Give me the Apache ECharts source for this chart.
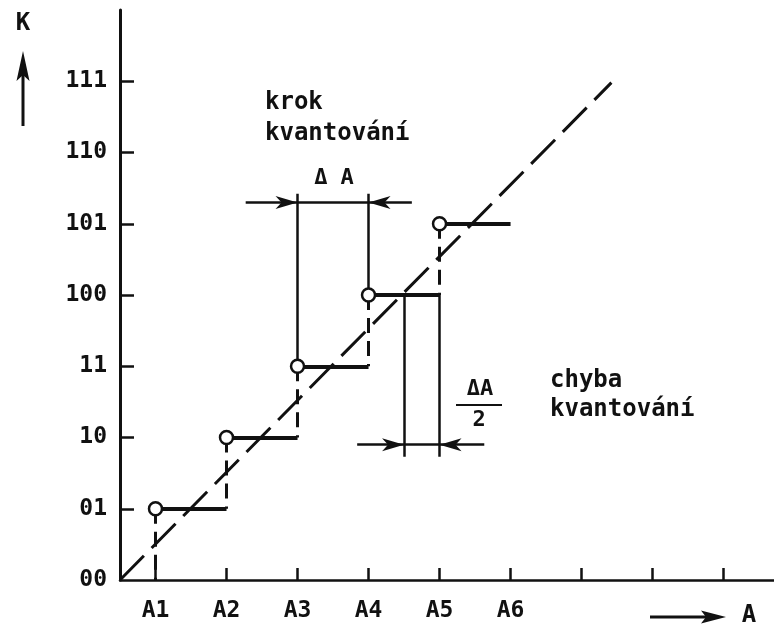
<!DOCTYPE html>
<html><head><meta charset="utf-8">
<script src="https://cdn.jsdelivr.net/npm/echarts@6/dist/echarts.min.js"></script>
<style>html,body{margin:0;padding:0;background:#fff}#c{width:774px;height:628px}</style>
</head><body><div id="c"></div>
<script>
// ---- data ----
const codeLabels = ['00','01','10','11','100','101','110','111'];
const codeValues = [0,1,2,3,4,5,6,7];
const inputLabels = ['A1','A2','A3','A4','A5','A6'];
const inputValues = [1,2,3,4,5,6];
const xTickValues = [1,2,3,4,5,6,7,8,9];
const yTickValues = [1,2,3,4,5,6,7];
const stepCodes = [1,2,3,4,5];            // code reached at A1..A5
const diagonalLine = [[0.5,0],[7.42,6.98]];  // ideal (dashed) characteristic
// dimension "krok kvantování" (ΔA)
const stepDim = {xFrom:3, xTo:4, y:5.30, top:5.42, left:2.27, right:4.61};
// dimension "chyba kvantování" (ΔA/2)
const errDim = {xFrom:4.5, xTo:5, y:1.90, bottom:1.73, level:4, left:3.84, right:5.63};

const FONT = 'DejaVu Sans Mono';
const BLACK = '#111';

// build segments
const stepSegs = stepCodes.map((k,i)=>({coords:[[inputValues[i],k],[inputValues[i]+1,k]]}));
const riserSegs = stepCodes.map((k,i)=>({coords:[[inputValues[i],k],[inputValues[i],k-1]]}));
const circles = stepCodes.map((k,i)=>[inputValues[i],k]);
const dimSegs = [
  {coords:[[stepDim.xFrom,stepCodes[2]],[stepDim.xFrom,stepDim.top]]},
  {coords:[[stepDim.xTo,stepCodes[3]],[stepDim.xTo,stepDim.top]]},
  {coords:[[stepDim.left,stepDim.y],[stepDim.right,stepDim.y]]},
  {coords:[[errDim.xFrom,errDim.level],[errDim.xFrom,errDim.bottom]]},
  {coords:[[errDim.xTo,errDim.level],[errDim.xTo,errDim.bottom]]},
  {coords:[[errDim.left,errDim.y],[errDim.right,errDim.y]]}
];
const arrowHeads = [
  [stepDim.xFrom, stepDim.y, 1],
  [stepDim.xTo, stepDim.y, -1],
  [errDim.xFrom, errDim.y, 1],
  [errDim.xTo, errDim.y, -1]
];

const chart = echarts.init(document.getElementById('c'), null, {renderer:'canvas'});
const txt = (x,y,text,size,align)=>({type:'text', x, y, style:{text, font:`bold ${size}px "${FONT}"`, fill:BLACK, textAlign:align||'left', textVerticalAlign:'middle'}});

chart.setOption({
  animation:false,
  backgroundColor:'#fff',
  grid:{left:120, right:0, top:10, bottom:48, containLabel:false, outerBoundsMode:'none'},
  xAxis:{
    type:'value', min:0.5, max:9.71,
    axisLine:{lineStyle:{color:BLACK,width:2.5}},
    axisTick:{inside:true,length:12,lineStyle:{color:BLACK,width:2.5},customValues:xTickValues},
    axisLabel:{customValues:inputValues, formatter:v=>inputLabels[inputValues.indexOf(v)], margin:20, fontSize:23, fontWeight:'bold', fontFamily:FONT, color:BLACK},
    splitLine:{show:false}
  },
  yAxis:{
    type:'value', min:0, max:8,
    axisLine:{lineStyle:{color:BLACK,width:3}},
    axisTick:{inside:true,length:14,lineStyle:{color:BLACK,width:2.5},customValues:yTickValues},
    axisLabel:{customValues:codeValues, formatter:v=>codeLabels[codeValues.indexOf(v)], margin:13, fontSize:23, fontWeight:'bold', fontFamily:FONT, color:BLACK},
    splitLine:{show:false}
  },
  series:[
    {type:'line', data:diagonalLine, symbol:'none', lineStyle:{color:BLACK,width:3,type:[34,11]}, z:2},
    {type:'lines', coordinateSystem:'cartesian2d', data:riserSegs, lineStyle:{color:BLACK,width:3,type:[15,8],opacity:1}, z:3},
    {type:'lines', coordinateSystem:'cartesian2d', data:stepSegs, lineStyle:{color:BLACK,width:4,opacity:1}, z:3},
    {type:'lines', coordinateSystem:'cartesian2d', data:dimSegs, lineStyle:{color:BLACK,width:2.5,opacity:1}, z:3},
    {type:'custom', data:arrowHeads, z:4,
      renderItem:(params,api)=>{
        const p = api.coord([api.value(0),api.value(1)]);
        const d = api.value(2);
        const L=22, W=6.5, N=16;
        return {type:'polygon', shape:{points:[[p[0],p[1]],[p[0]-d*L,p[1]-W],[p[0]-d*N,p[1]],[p[0]-d*L,p[1]+W]]}, style:{fill:BLACK}};
      }},
    {type:'scatter', data:circles, symbol:'circle', symbolSize:13, itemStyle:{color:'#fff',borderColor:BLACK,borderWidth:2.5,opacity:1}, z:5}
  ],
  graphic:[
    txt(23,24,'K',24,'center'),
    {type:'line', shape:{x1:23,y1:126,x2:23,y2:70}, style:{stroke:BLACK,lineWidth:3}},
    {type:'polygon', shape:{points:[[23,51],[16.5,81],[23,75],[29.5,81]]}, style:{fill:BLACK}},
    txt(749,616,'A',24,'center'),
    {type:'line', shape:{x1:650,y1:617,x2:710,y2:617}, style:{stroke:BLACK,lineWidth:3}},
    {type:'polygon', shape:{points:[[726,617],[701,610.5],[706,617],[701,623.5]]}, style:{fill:BLACK}},
    txt(265,103,'krok',24),
    txt(265,134,'kvantování',24),
    txt(334,178,'Δ A',22,'center'),
    txt(480,389,'ΔA',22,'center'),
    {type:'line', shape:{x1:456,y1:405,x2:502,y2:405}, style:{stroke:BLACK,lineWidth:2}},
    txt(479,420,'2',22,'center'),
    txt(550,381,'chyba',24),
    txt(550,410,'kvantování',24)
  ]
});
</script></body></html>
